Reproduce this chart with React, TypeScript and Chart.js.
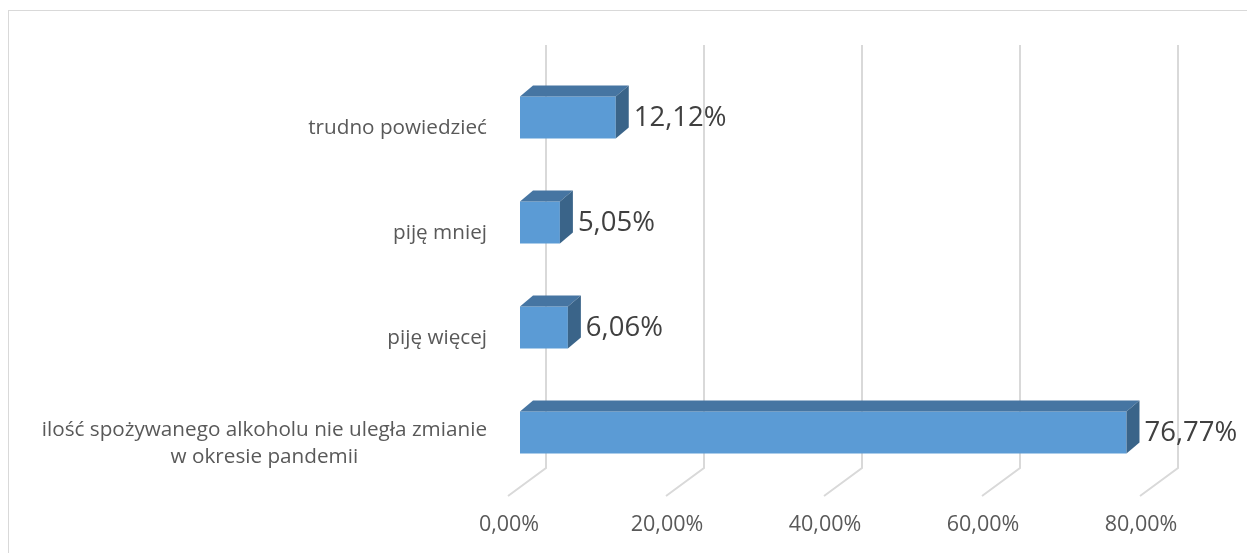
import React, { useEffect, useRef } from "react";
import { Chart, registerables } from "chart.js";

Chart.register(...registerables);

const categories: (string | string[])[] = [
  "trudno powiedzieć",
  "piję mniej",
  "piję więcej",
  ["ilość spożywanego alkoholu nie uległa zmianie", "w okresie pandemii"],
];
const values = [12.12, 5.05, 6.06, 76.77];
const xMin = 0;
const xMax = 80;
const xStep = 20;

const FRONT = "#5b9bd5";
const TOP = "#4675a2";
const SIDE = "#3a6489";
const GRID = "#d9d9d9";
const FONT = "'Open Sans', sans-serif";

const fmt = (v: number) => v.toFixed(2).replace(".", ",") + "%";

const DX = 13;
const DY = -11;

const threeD = {
  id: "threeD",
  beforeDatasetsDraw(chart: any) {
    const { ctx, chartArea } = chart;
    const xs = chart.scales.x;
    ctx.save();
    ctx.strokeStyle = GRID;
    ctx.lineWidth = 2;
    for (const t of xs.ticks) {
      const px = xs.getPixelForValue(t.value);
      ctx.beginPath();
      ctx.moveTo(px + 26, chartArea.top - 20);
      ctx.lineTo(px + 26, chartArea.bottom - 17);
      ctx.lineTo(px - 12, chartArea.bottom + 11);
      ctx.stroke();
    }
    ctx.restore();
  },
  afterDatasetsDraw(chart: any) {
    const { ctx, chartArea } = chart;
    const meta = chart.getDatasetMeta(0);
    ctx.save();
    meta.data.forEach((el: any, i: number) => {
      const { x, y, base, height } = el.getProps(["x", "y", "base", "height"], true);
      const top = y - height / 2;
      const bottom = y + height / 2;
      ctx.fillStyle = TOP;
      ctx.beginPath();
      ctx.moveTo(base, top);
      ctx.lineTo(base + DX, top + DY);
      ctx.lineTo(x + DX, top + DY);
      ctx.lineTo(x, top);
      ctx.closePath();
      ctx.fill();
      ctx.fillStyle = SIDE;
      ctx.beginPath();
      ctx.moveTo(x, top);
      ctx.lineTo(x + DX, top + DY);
      ctx.lineTo(x + DX, bottom + DY);
      ctx.lineTo(x, bottom);
      ctx.closePath();
      ctx.fill();
      ctx.fillStyle = "#404040";
      ctx.font = `27.5px ${FONT}`;
      ctx.textAlign = "left";
      ctx.textBaseline = "middle";
      ctx.fillText(fmt(values[i]), x + DX + 5, y + 1);
    });
    // category labels
    const ys = chart.scales.y;
    ctx.fillStyle = "#595959";
    ctx.font = `20.7px ${FONT}`;
    ctx.textBaseline = "middle";
    ctx.textAlign = "center";
    const rightEdge = chartArea.left - 33;
    const lineH = 27;
    categories.forEach((lab, i) => {
      const lines = Array.isArray(lab) ? lab : [lab];
      const w = Math.max(...lines.map((l) => ctx.measureText(l).width));
      const cx = rightEdge - w / 2;
      const yc = ys.getPixelForValue(i) + 11;
      lines.forEach((l, j) => {
        ctx.fillText(l, cx, yc + (j - (lines.length - 1) / 2) * lineH);
      });
    });
    ctx.restore();
  },
};

export default function App() {
  const ref = useRef<HTMLCanvasElement>(null);
  useEffect(() => {
    document.body.style.margin = "0";
    document.body.style.overflow = "hidden";
    const chart = new Chart(ref.current!, {
      type: "bar",
      data: {
        labels: categories as any,
        datasets: [
          {
            data: values,
            backgroundColor: FRONT,
            borderWidth: 0,
            categoryPercentage: 1,
            barPercentage: 0.4,
          },
        ],
      },
      options: {
        indexAxis: "y",
        animation: false,
        responsive: true,
        maintainAspectRatio: false,
        layout: { padding: { top: 65, right: 95, bottom: 0, left: 0 } },
        plugins: { legend: { display: false }, tooltip: { enabled: false } },
        scales: {
          x: {
            min: xMin,
            max: xMax,
            ticks: {
              stepSize: xStep,
              callback: (v: any) => fmt(Number(v)),
              font: { family: FONT, size: 21.5 },
              color: "#595959",
              labelOffset: -11,
              padding: 27,
              maxRotation: 0,
            },
            grid: { display: false, drawTicks: false },
            border: { display: false },
            afterFit: (s: any) => {
              s.height = 68;
            },
          },
          y: {
            ticks: { display: false },
            grid: { display: false, drawTicks: false },
            border: { display: false },
            afterFit: (s: any) => {
              s.width = 520;
            },
          },
        },
      },
      plugins: [threeD],
    });
    return () => chart.destroy();
  }, []);
  return (
    <>
      <div
        style={{
          position: "fixed",
          left: 8,
          top: 10,
          width: 1300,
          height: 600,
          borderLeft: "1px solid #d9d9d9",
          borderTop: "1px solid #d9d9d9",
        }}
      />
      <div style={{ position: "fixed", left: 0, top: 0, width: 1247, height: 553 }}>
        <canvas ref={ref} />
      </div>
    </>
  );
}
